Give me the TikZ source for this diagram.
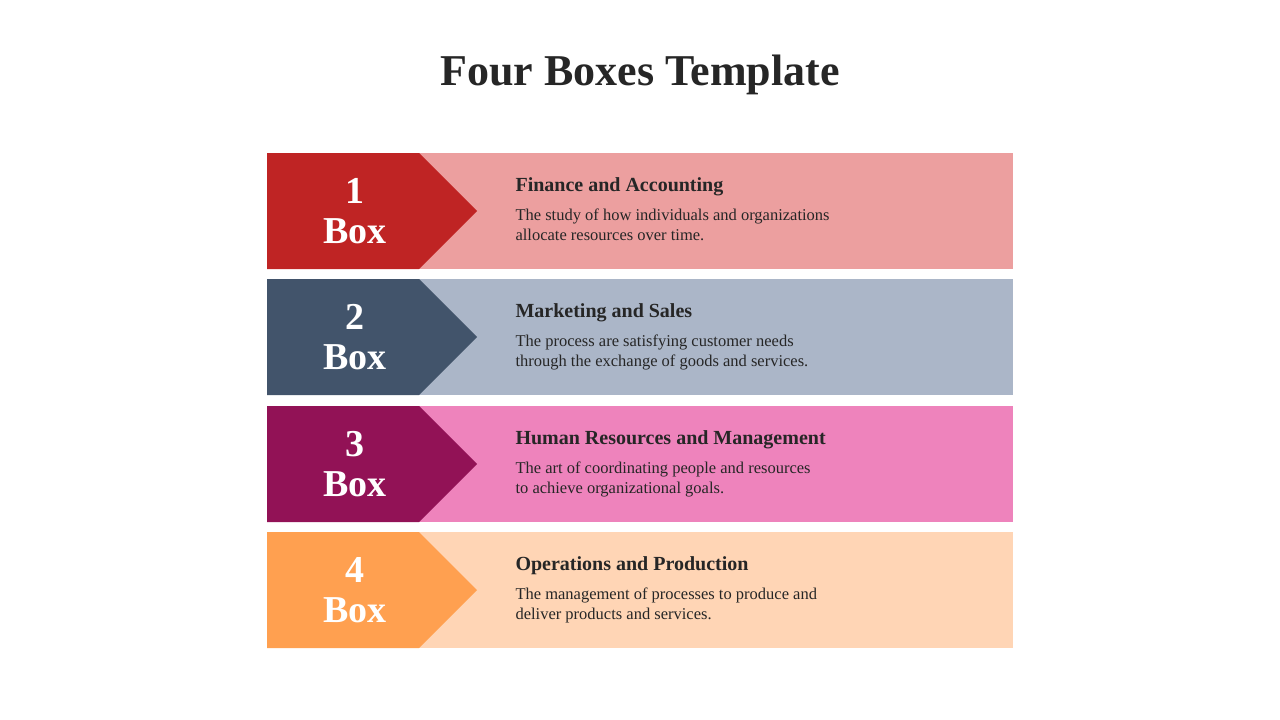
\documentclass[tikz,border=0pt]{standalone}
\usepackage{fontspec}
\setmainfont{Liberation Serif}
\definecolor{d1}{HTML}{BF2424}\definecolor{l1}{HTML}{EC9F9F}
\definecolor{d2}{HTML}{42546B}\definecolor{l2}{HTML}{ABB6C8}
\definecolor{d3}{HTML}{921256}\definecolor{l3}{HTML}{EE83BC}
\definecolor{d4}{HTML}{FFA050}\definecolor{l4}{HTML}{FFD5B5}
\definecolor{ink}{HTML}{262626}
\tikzset{numtxt/.style={text=white,font=\fontsize{38}{44}\selectfont\bfseries,align=center},
head/.style={anchor=west,text=ink,font=\fontsize{20}{24}\selectfont\bfseries},
body/.style={anchor=north west,text=ink,font=\fontsize{16.5}{20}\selectfont,align=left}}
\begin{document}
\begin{tikzpicture}[x=1pt,y=-1pt]
\useasboundingbox (0,0) rectangle (1280,720);
\node[text=ink,font=\fontsize{44}{50}\selectfont\bfseries] (title) at (640,75) {Four Boxes Template};
\foreach \i/\y/\num/\h/\b in {1/153/1/Finance and Accounting/{The study of how individuals and organizations\\allocate resources over time.},
2/279/2/Marketing and Sales/{The process are satisfying customer needs\\through the exchange of goods and services.},
3/406/3/Human Resources and Management/{The art of coordinating people and resources\\to achieve organizational goals.},
4/532/4/Operations and Production/{The management of processes to produce and\\deliver products and services.}}{
\fill[l\i] (267,\y) rectangle (1013,\y+116);
\fill[d\i] (267,\y) -- (419,\y) -- (477,\y+58) -- (419,\y+116) -- (267,\y+116) -- cycle;
\node[numtxt] (n\i) at (355,\y+58) {\num\\[-4pt]Box};
\node[head] (h\i) at (512,\y+34) {\h};
\node[body] (b\i) at (512,\y+52) {\b};
}
\end{tikzpicture}
\end{document}
